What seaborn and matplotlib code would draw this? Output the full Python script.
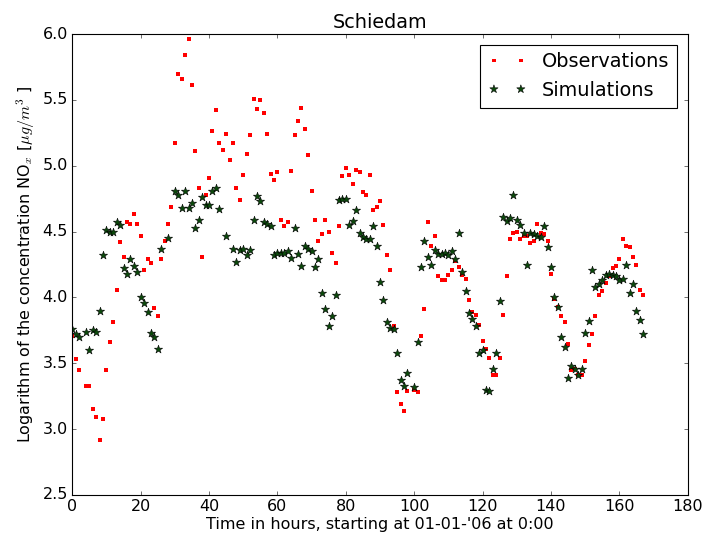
import numpy as np
import pandas as pd
import matplotlib
matplotlib.use("Agg")
import matplotlib.pyplot as plt
import seaborn as sns

# old matplotlib look: ticks inside on all sides, black frame
plt.style.use("classic")
plt.rcParams["figure.facecolor"] = "white"
plt.rcParams["savefig.facecolor"] = "white"
plt.rcParams["font.family"] = ["DejaVu Sans"]
plt.rcParams["font.size"] = 14.4

nan = np.nan

# hourly log NOx values (nan = no point drawn)
obs = [3.71, 3.53, 3.45, nan, 3.33, 3.33, 3.15, 3.09, 2.92, 3.08,
       3.45, 3.66, 3.81, 4.06, 4.42, 4.31, 4.57, 4.56, 4.63, 4.56,
       4.47, 4.21, 4.29, 4.26, 3.92, 3.86, 4.29, 4.43, 4.56, 4.69,
       5.17, 5.70, 5.66, 5.84, 5.96, 5.61, 5.11, 4.83, 4.31, 4.78,
       4.91, 5.26, 5.42, 5.17, 5.12, 5.24, 5.04, 5.17, 4.83, 4.74,
       4.93, 5.09, 5.23, 5.51, 5.43, 5.50, 5.40, 5.24, 4.94, 4.89,
       4.95, 4.59, 4.54, 4.57, 4.96, 5.23, 5.34, 5.44, 5.28, 5.08,
       4.81, 4.59, 4.43, 4.48, 4.59, 4.50, 4.34, 4.26, 4.54, 4.92,
       4.98, 4.93, 4.86, 4.97, 4.95, 4.80, 4.78, 4.93, 4.66, 4.69,
       4.73, 4.55, 4.32, 4.21, 3.78, 3.28, 3.19, 3.14, 3.29, nan,
       3.30, 3.28, 3.71, 3.91, 4.57, 4.39, 4.47, 4.16, 4.13, 4.13,
       4.17, 4.21, 4.28, 4.23, 4.17, 4.14, 3.98, 3.89, 3.87, 3.79,
       3.67, 3.61, 3.54, 3.41, 3.41, 3.54, 3.87, 4.16, 4.44, 4.49,
       4.50, 4.44, 4.47, 4.47, 4.41, 4.43, 4.56, 4.49, 4.48, 4.43,
       4.18, 3.99, 3.93, 3.86, 3.81, 3.65, 3.45, 3.46, 3.41, 3.41,
       3.52, 3.64, 3.72, 3.86, 4.02, 4.05, 4.11, 4.16, 4.22, 4.24,
       4.29, 4.44, 4.39, 4.38, 4.31, 4.25, 4.06, 4.02]

sim = [3.76, 3.72, 3.70, nan, 3.74, 3.60, 3.75, 3.74, 3.90, 4.32,
       4.51, 4.50, 4.50, 4.57, 4.55, 4.22, 4.18, 4.29, 4.24, 4.19,
       4.00, 3.96, 3.89, 3.73, 3.70, 3.61, 4.37, nan, 4.45, nan,
       4.81, 4.78, 4.68, 4.81, 4.68, 4.72, 4.53, 4.59, 4.76, 4.70,
       4.70, 4.81, 4.83, 4.67, nan, 4.47, nan, 4.37, 4.27, 4.36,
       4.37, 4.32, 4.36, 4.59, 4.77, 4.73, 4.57, 4.56, 4.54, 4.32,
       4.34, 4.34, 4.34, 4.35, 4.30, 4.53, 4.33, 4.24, 4.39, 4.37,
       4.35, 4.23, 4.29, 4.03, 3.91, 3.78, 3.86, 4.02, 4.74, 4.75,
       4.75, 4.55, 4.58, 4.66, 4.49, 4.46, 4.44, 4.44, 4.54, 4.39,
       4.12, 3.98, 3.81, 3.77, 3.76, 3.58, 3.37, 3.33, 3.43, nan,
       3.32, 3.66, 4.23, 4.43, 4.31, 4.25, 4.36, 4.33, 4.33, 4.34,
       4.32, 4.35, 4.29, 4.49, 4.19, 4.05, 3.88, 3.84, 3.78, 3.58,
       3.60, 3.30, 3.29, 3.46, 3.58, 3.97, 4.61, 4.58, 4.60, 4.78,
       4.59, 4.55, 4.49, 4.25, 4.49, 4.48, 4.47, 4.46, 4.54, 4.38,
       4.23, 4.00, 3.93, 3.70, 3.62, 3.39, 3.48, 3.46, 3.41, 3.46,
       3.73, 3.82, 4.21, 4.08, 4.10, 4.13, 4.17, 4.18, 4.17, 4.16,
       4.13, 4.14, 4.25, 4.03, 4.10, 3.90, 3.83, 3.72]

hours = np.arange(len(obs))
df = pd.DataFrame({"hour": hours, "obs": obs, "sim": sim})

fig = plt.figure(figsize=(702 / 80, 533 / 80), dpi=80)
ax = fig.add_axes([0.103, 0.0713, 0.8767, 0.8649])

sns.scatterplot(data=df, x="hour", y="obs", ax=ax, marker="s", s=10,
                color="red", linewidth=0, label="Observations")
sns.scatterplot(data=df, x="hour", y="sim", ax=ax, marker="*", s=60,
                color="#0b4a0b", edgecolor="black", linewidth=0.5,
                label="Simulations")

ax.set_xlim(0, 180)
ax.set_ylim(2.5, 6.0)
ax.set_xticks(np.arange(0, 181, 20))
ax.set_yticks(np.arange(2.5, 6.01, 0.5))
ax.set_title("Schiedam", fontsize=17.3)
ax.set_xlabel("Time in hours, starting at 01-01-'06 at 0:00", labelpad=2)
ax.set_ylabel(r"Logarithm of the concentration NO$_x$ [$\mu g/m^3$ ]")
ax.legend(loc="upper right", scatterpoints=2, scatteryoffsets=[0.5],
          fontsize=17.3, frameon=True, borderaxespad=0.55)

fig.savefig("out.png", dpi=80)
